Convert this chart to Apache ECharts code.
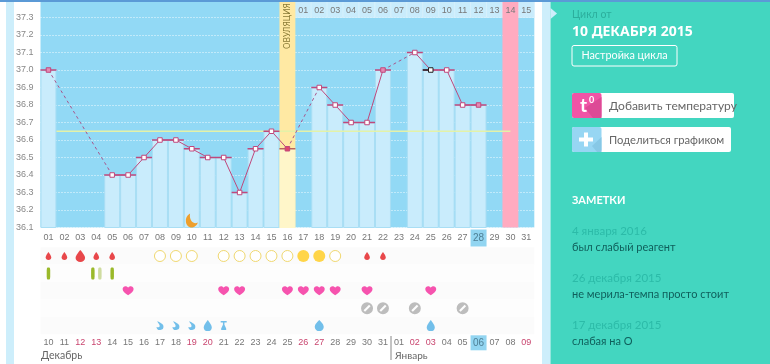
<!DOCTYPE html>
<html><head><meta charset="utf-8">
<style>html,body{margin:0;padding:0;background:#fff;overflow:hidden}#c{width:770px;height:364px}</style>
<script src="https://cdn.jsdelivr.net/npm/echarts@6/dist/echarts.min.js"></script>
</head><body><div id="c"></div>
<script>
const dayLabels = ['01','02','03','04','05','06','07','08','09','10','11','12','13','14','15','16','17','18','19','20','21','22','23','24','25','26','27','28','29','30','31'];
const dateLabels = ['10','11','12','13','14','15','16','17','18','19','20','21','22','23','24','25','26','27','28','29','30','31','01','02','03','04','05','06','07','08','09'];
const headerLabels = ['01','02','03','04','05','06','07','08','09','10','11','12','13','14','15'];
const weekendDates = ['12','13','19','20','26','27','02','03','09'];
const tempValues = [37.0,null,null,null,36.4,36.4,36.5,36.6,36.6,36.55,36.5,36.5,36.3,36.55,36.65,36.55,null,36.9,36.8,36.7,36.7,37.0,null,37.1,37.0,37.0,36.8,36.8,null,null,null];
const filledMarkerDays = [1,22,28];
const ovulationDay = 16, currentDay = 25, periodEndDay = 30, todayLabel = '28', todayDate = '06';
const coverLine = 36.65;
const rowNames = ['blood','test','sex','neg','mucus'];
const bloodSmall = [1,2,4,5,21,22], bloodBig = [3];
const tempOpen = [8,9,10,12,13,14,15,16,19], tempFull = [17,18];
const testDark = [1,5], testPair = [4];
const hearts = [6,12,13,16,17,18,19,21,25];
const negatives = [21,22,24,27];
const mucusCurl = [8,9,10], mucusDrop = [11,25], mucusRound = [18], mucusStem = [12];

const P = {
 drop:'path://M12 0C12 0 2 13 2 20A10 10 0 0 0 22 20C22 13 12 0 12 0Z',
 round:'path://M12 0C9 4 1 11 1 19A11 11 0 0 0 23 19C23 11 15 4 12 0Z',
 curl:'path://M4 0C9 5 23 8 23 17A11 11 0 0 1 1 19C6 21 12 20 11 14C10 9 4 6 4 0Z',
 heart:'path://M12 21C5 16 0 12 0 6.5C0 2.5 3 0 6.3 0C8.7 0 10.8 1.3 12 3.3C13.2 1.3 15.3 0 17.7 0C21 0 24 2.5 24 6.5C24 12 19 16 12 21Z',
 neg:'path://M12 0A12 12 0 0 1 12 24A12 12 0 0 1 12 0ZM16 5L5 16L8 19L19 8Z',
 stem:'path://M0 0H24V4H15V10L22 20V24H2V20L9 10V4H0Z',
 moon:'path://M9 0C3 3 0 8 1 14C2 20 8 24 14 23C19 22 23 19 24 15C19 17 15 16 12 13C9 9 8 5 9 0Z'
};
const idx = d => d - 1;
const pts = (days,row) => days.map(d => [idx(d),row]);
const pink='#c0487c';
const gapPairs=[]; {let prev=null; tempValues.forEach((v,i)=>{ if(v==null)return; if(prev!==null && i-prev>1) gapPairs.push([prev,i]); prev=i; });}
const symSeries=(data,symbol,size,color,extra)=>Object.assign({type:'scatter',xAxisIndex:2,yAxisIndex:1,data,symbol,symbolSize:size,itemStyle:{color,opacity:1},silent:true,z:4},extra||{});
const headerAreas = headerLabels.map((_,i)=>[{xAxis:16+i,yAxis:37.3,itemStyle:{color:'#c9ecfc',borderColor:'#e2f5fd',borderWidth:0.5}},{xAxis:17+i,yAxis:37.4}]);
const sans='Lato';
const S = (x,y,text,size,color,weight,extra)=>({type:'text',x,y,silent:true,z:20,style:Object.assign({text,fontFamily:sans,fontSize:size,fill:color,fontWeight:weight||'normal',textVerticalAlign:'middle'},extra||{})});
const R = (x,y,w,h,fill,r,extra)=>({type:'rect',silent:true,z:10,shape:{x,y,width:w,height:h,r:r||0},style:Object.assign({fill},extra||{})});
const graphic=[
 R(0,0,770,2,'#5b9ad6'),
 R(6,2,8,362,'#cdeefb'),
 R(542,2,8.5,362,'#cdeefb'),
 R(550.5,2,220,362,'#43d6c0'),
 {type:'polygon',silent:true,z:11,shape:{points:[[550.5,8],[557,13.5],[550.5,19]]},style:{fill:'#cdeefb'}},
 {type:'line',silent:true,z:11,shape:{x1:391,y1:336,x2:391,y2:360},style:{stroke:'#888',lineWidth:1}},
 {type:'text',silent:true,z:12,x:287.5,y:26,rotation:Math.PI/2,style:{text:'ОВУЛЯЦИЯ',fontFamily:'"Noto Sans"',fontSize:8.5,fill:'#8a7b36',textAlign:'center',textVerticalAlign:'middle'}},
 S(41,356,'Декабрь',10.5,'#666'),
 S(395,356,'Январь',10,'#666'),
 S(572,15,'Цикл от',10.5,'#2cae9c'),
 {type:'text',silent:true,z:20,x:572,y:32,style:{text:'10 ДЕКАБРЯ 2015',fontFamily:'"Noto Sans"',fontSize:14,fill:'#fff',fontWeight:'bold',textVerticalAlign:'middle'}},
 R(572,45.5,105,20.5,'rgba(0,0,0,0)',2,{stroke:'#fff',lineWidth:1}),
 S(624.5,56,'Настройка цикла',10.8,'#fff','normal',{textAlign:'center'}),
 R(572,93,162,25,'#fff',2),
 R(572,93,29.5,25,'#f154a6',2),
 {type:'polygon',silent:true,z:11,shape:{points:[[585,108],[601.5,97],[601.5,118],[593,118]]},style:{fill:'#dd4a96'}},
 {type:'text',silent:true,z:20,x:580,y:106,style:{text:'t',fontFamily:sans,fontSize:19,fontWeight:'bold',fill:'#fff',textVerticalAlign:'middle'}},
 {type:'text',silent:true,z:20,x:589,y:100,style:{text:'0',fontFamily:sans,fontSize:9,fontWeight:'bold',fill:'#fff',textVerticalAlign:'middle'}},
 S(609,106,'Добавить температуру',12,'#666'),
 R(572,127,159,25,'#fff',2),
 R(572,127,29.5,25,'#97d6f3',2),
 {type:'polygon',silent:true,z:11,shape:{points:[[592,146],[601.5,137],[601.5,152],[597,152]]},style:{fill:'#87c8e6'}},
 R(579,137.5,14,4,'#fff',0,{}),
 R(584,132.5,4,14,'#fff',0,{}),
 S(609,140,'Поделиться графиком',11.2,'#666'),
 S(572,200,'ЗАМЕТКИ',11,'#fff','bold'),
 S(572,231,'4 января 2016',11.5,'#2cbba8'),
 S(572,247,'был слабый реагент',11,'#0f5f5b'),
 S(572,278,'26 декабря 2015',11.5,'#2cbba8'),
 S(572,294,'не мерила-темпа просто стоит',11,'#0f5f5b'),
 S(572,325,'17 декабря 2015',11.5,'#2cbba8'),
 S(572,341,'слабая на О',11,'#0f5f5b')
];
graphic.forEach(g=>{ if(g.type==='rect'&&g.shape.width===14||g.type==='rect'&&g.shape.height===14) g.z=12; });
const font='"Liberation Sans"';
const option={
 animation:false,backgroundColor:'#fff',graphic,
 grid:[{left:40.5,top:-2.2,width:493.8,height:229.7,backgroundColor:'#92d9f5',show:true,borderWidth:0},
       {left:40.5,top:247.3,width:493.8,height:87}],
 xAxis:[
  {type:'category',gridIndex:0,data:dayLabels,position:'bottom',axisLine:{show:false},axisTick:{show:false},
   axisLabel:{interval:0,margin:10.5,verticalAlign:'middle',fontFamily:font,fontSize:9,color:'#777',formatter:v=>v===todayLabel?`{h|${v}}`:v,
    rich:{h:{backgroundColor:'#92d5f1',width:16,height:17,align:'center',verticalAlign:'middle',lineHeight:17,fontSize:10,color:'#4d7f95',fontFamily:font}}}},
  {type:'value',gridIndex:0,min:0,max:31,show:false},
  {type:'category',gridIndex:1,data:dateLabels,position:'bottom',axisLine:{show:false},axisTick:{show:false},
   axisLabel:{interval:0,margin:8.5,verticalAlign:'middle',fontFamily:font,fontSize:9,color:'#777',
    formatter:(v,i)=>v===todayDate?`{h|${v}}`:(weekendDates.includes(v)?`{r|${v}}`:v),
    rich:{r:{color:'#c9456f',fontSize:9,fontFamily:font},h:{backgroundColor:'#92d5f1',width:16,height:15,align:'center',verticalAlign:'middle',lineHeight:15,fontSize:10,color:'#4d7f95',fontFamily:font}}}},
  {type:'category',gridIndex:0,position:'top',z:10,data:Array(16).fill('').concat(headerLabels),axisLine:{show:false},axisTick:{show:false},
   axisLabel:{inside:true,interval:0,margin:6,fontFamily:font,fontSize:9,color:'#777'}}
 ],
 yAxis:[
  {type:'value',gridIndex:0,min:36.1,max:37.4,interval:0.1,axisLine:{show:false},axisTick:{show:false},
   axisLabel:{margin:7,fontFamily:font,fontSize:9,color:'#888',formatter:v=>v>37.35?'':v.toFixed(1)},
   splitLine:{show:true,lineStyle:{color:'#f0faff',type:[1,2],width:1}}},
  {type:'category',gridIndex:1,data:rowNames,inverse:true,axisLine:{show:false},axisTick:{show:false},axisLabel:{show:false},
   splitLine:{show:false},splitArea:{show:true,areaStyle:{color:['#fbfbfb','#fdfdfd']}}}
 ],
 series:[
  {type:'line',xAxisIndex:1,yAxisIndex:0,data:[[0,36.1]],symbol:'none',lineStyle:{opacity:0},silent:true,z:1,
   markArea:{silent:true,z:1,data:headerAreas.concat([
     [{xAxis:ovulationDay-1,yAxis:36.1,itemStyle:{color:'#ffe9a3'}},{xAxis:ovulationDay,yAxis:37.4}],
     [{xAxis:periodEndDay-1,yAxis:36.1,itemStyle:{color:'#ffabc0'}},{xAxis:periodEndDay,yAxis:37.4}]
   ])}},
  {type:'bar',xAxisIndex:0,yAxisIndex:0,barWidth:'100%',barGap:0,silent:true,z:2,
   data:tempValues.map((v,i)=>v==null?null:{value:v,itemStyle:{color:i===idx(ovulationDay)?'#fff6c9':'#c9ecfc',borderColor:i===idx(ovulationDay)?'#fff6c9':'#a9def4',borderWidth:1}})},
  {type:'line',xAxisIndex:1,yAxisIndex:0,data:[[1,coverLine],[29.5,coverLine]],symbol:'none',silent:true,z:3,lineStyle:{color:'#e4f2a8',width:1.5}},
  {type:'scatter',xAxisIndex:0,yAxisIndex:0,silent:true,z:4,symbol:'rect',symbolSize:[16,1.5],
   data:tempValues.map((v,i)=>v==null?null:{value:[i,v],itemStyle:{color:i===idx(ovulationDay)?'#b8655f':pink,opacity:1}})},
  {type:'scatter',xAxisIndex:0,yAxisIndex:0,silent:true,z:4,symbol:'rect',symbolSize:[8,1.5],symbolOffset:[-4,0],
   data:[[idx(currentDay),tempValues[idx(currentDay)]]],itemStyle:{color:'#222',opacity:1}},
  ...gapPairs.map(([a,b])=>({type:'line',xAxisIndex:0,yAxisIndex:0,silent:true,z:5,symbol:'none',connectNulls:true,
    data:tempValues.map((v,i)=>(i===a||i===b)?v:null),lineStyle:{color:'#a9568c',width:1,type:[3,3]}})),
  {type:'line',xAxisIndex:0,yAxisIndex:0,silent:true,z:6,connectNulls:false,symbol:'rect',symbolSize:4.5,showAllSymbol:true,
   lineStyle:{color:pink,width:1},itemStyle:{color:'#fff',borderColor:pink,borderWidth:1,opacity:1},
   data:tempValues.map((v,i)=>{
     if(v==null)return null;
     if(i===idx(currentDay))return {value:v,itemStyle:{color:'#fff',borderColor:'#222',borderWidth:1}};
     if(i===idx(ovulationDay))return {value:v,itemStyle:{color:'#e0466a',borderColor:pink,borderWidth:1}};
     if(filledMarkerDays.includes(i+1))return {value:v,itemStyle:{color:'#e58ab4',borderColor:pink,borderWidth:1}};
     return v;})},
  {type:'scatter',xAxisIndex:0,yAxisIndex:0,silent:true,z:4,symbol:P.moon,symbolSize:[12,14],data:[[9,36.14]],itemStyle:{color:'#ee9f2c',opacity:1}},
  symSeries(pts(bloodSmall,'blood'),P.drop,[5.5,8],'#e8474a'),
  symSeries(pts(bloodBig,'blood'),P.drop,[9.5,12],'#e8474a'),
  symSeries(pts(tempOpen,'blood'),'circle',11,'#fff',{itemStyle:{color:'#fff',borderColor:'#f0d870',borderWidth:1,opacity:1}}),
  symSeries(pts(tempFull,'blood'),'circle',12,'#ffd548'),
  symSeries(pts(testDark,'test'),'roundRect',[3.5,12],'#9ab92a'),
  symSeries(pts(testPair,'test'),'roundRect',[3.5,12],'#9ab92a',{symbolOffset:[-3.4,0]}),
  symSeries(pts(testPair,'test'),'roundRect',[3.5,12],'#cfdca0',{symbolOffset:[3.6,0]}),
  symSeries(pts(hearts,'sex'),P.heart,[11,9],'#f653ae'),
  symSeries(pts(negatives,'neg'),P.neg,12,'#bdbdbd'),
  symSeries(pts(mucusCurl,'mucus'),P.curl,[7,9],'#72bfea'),
  symSeries(pts(mucusDrop,'mucus'),P.drop,[8,11],'#72bfea'),
  symSeries(pts(mucusRound,'mucus'),P.round,[9,11],'#72bfea'),
  symSeries(pts(mucusStem,'mucus'),P.stem,[6,9],'#72bfea')
 ]
};
const chart=echarts.init(document.getElementById('c'),null,{renderer:'canvas'});
chart.setOption(option);
</script></body></html>
